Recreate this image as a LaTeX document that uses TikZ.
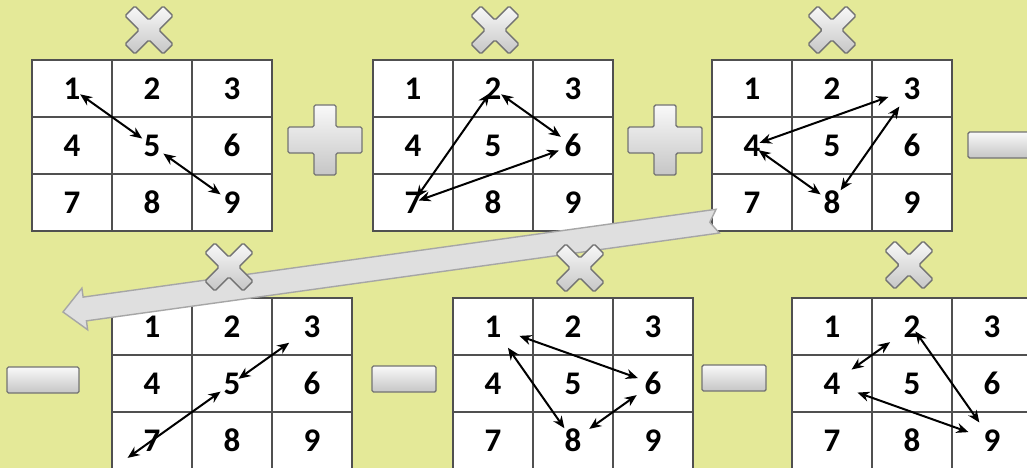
\documentclass[tikz,border=0pt]{standalone}
\usepackage{fontspec}
\setmainfont{Carlito}
\usetikzlibrary{arrows.meta}
\definecolor{paper}{RGB}{228,233,152}
\definecolor{rule}{RGB}{80,80,80}
\definecolor{signedge}{RGB}{115,115,115}

\begin{document}
\begin{tikzpicture}[x=1pt,y=-1pt,
  cell/.style={draw=rule,line width=1.8pt,fill=white,minimum width=80pt,
    minimum height=57pt,inner sep=0pt,font=\fontsize{33}{33}\selectfont\bfseries},
  link/.style={{Stealth[length=12pt,width=10pt]}-{Stealth[length=12pt,width=10pt]},line width=2pt},
  sign/.style={draw=signedge,line width=1.4pt,top color=gray!5,bottom color=gray!45,rounded corners=1.5pt},
  bigarrow/.style={draw=gray!70,line width=1.4pt,fill=gray!25},
  xsign/.pic={\path[sign,rotate=45] (-7,-7)--(-7,-27)--(7,-27)--(7,-7)--(27,-7)--(27,7)
    --(7,7)--(7,27)--(-7,27)--(-7,7)--(-27,7)--(-27,-7)--cycle;},
  plussign/.pic={\path[sign] (-11,-35)--(11,-35)--(11,-13)--(37,-13)--(37,13)--(11,13)
    --(11,35)--(-11,35)--(-11,13)--(-37,13)--(-37,-13)--(-11,-13)--cycle;},
  minussign/.pic={\path[sign] (-#1,-13) rectangle (#1,13);}]
  \useasboundingbox (0,0) rectangle (1027,468);
  \clip (0,0) rectangle (1027,468);
  \fill[paper] (0,0) rectangle (1027,468);

  % six 3x3 boards
  \foreach \g/\ox/\oy in {a/32/60,b/373/60,c/712/60,d/112/298,e/453/298,f/792/298}
    \foreach \n in {1,...,9} {
      \pgfmathtruncatemacro\cx{mod(\n-1,3)}
      \pgfmathtruncatemacro\ry{(\n-1)/3}
      \node[cell] (\g-\n) at (\ox+40+80*\cx,\oy+28.5+57*\ry) {\n};
    }

  % diagonals
  \draw[link,shorten <=10pt,shorten >=12pt] (a-1.center) -- (a-5.center);
  \draw[link,shorten <=14pt,shorten >=14pt] (a-5.center) -- (a-9.center);
  \draw[link,shorten <=6pt,shorten >=6pt] (b-7.center) -- (b-2.center);
  \draw[link,shorten <=10pt,shorten >=15pt] (b-2.center) -- (b-6.center);
  \draw[link,shorten <=15pt,shorten >=6pt] (b-6.center) -- (b-7.center);
  \draw[link,shorten <=8pt,shorten >=25pt] (c-4.center) -- (c-3.center);
  \draw[link,shorten <=15pt,shorten >=22pt] (c-8.center) -- (c-3.center);
  \draw[link,shorten <=8pt,shorten >=14pt] (c-4.center) -- (c-8.center);
  \draw[link,shorten <=-30pt,shorten >=14pt] (d-7.center) -- (d-5.center);
  \draw[link,shorten <=8pt,shorten >=28pt] (d-5.center) -- (d-3.center);
  \draw[link,shorten <=26pt,shorten >=15pt] (e-1.center) -- (e-8.center);
  \draw[link,shorten <=28pt,shorten >=16pt] (e-1.center) -- (e-6.center);
  \draw[link,shorten <=20pt,shorten >=20pt] (e-8.center) -- (e-6.center);
  \draw[link,shorten <=27pt,shorten >=24pt] (f-2.center) -- (f-4.center);
  \draw[link,shorten <=6pt,shorten >=22pt] (f-2.center) -- (f-9.center);
  \draw[link,shorten <=27pt,shorten >=25pt] (f-4.center) -- (f-9.center);

  % wrap-around arrow to the second line
  \coordinate (tip) at (63,312);
  \draw[bigarrow,shift={(tip)},rotate=7.9] (0,0)--(22,-21)--(22,-12)--(661,-12)
    --(653,0)--(661,12)--(22,12)--(22,21)--cycle;

  \foreach \p in {(149,30),(495,30),(832,30),(229,267),(580,268),(909,265)}
    \pic at \p {xsign};
  \pic at (325,140) {plussign};
  \pic at (665,140) {plussign};
  \pic at (1004,145) {minussign=36};
  \pic at (43,380) {minussign=36};
  \pic at (404,379) {minussign=32};
  \pic at (734,378) {minussign=32};
\end{tikzpicture}
\end{document}
